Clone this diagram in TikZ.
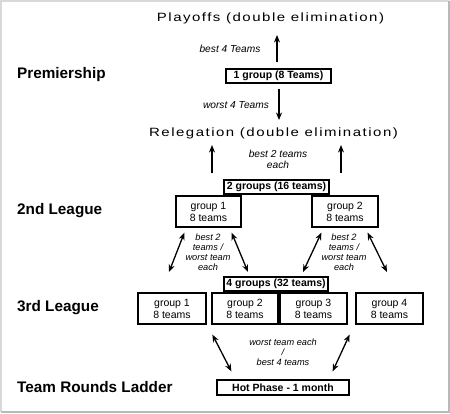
\documentclass[tikz,border=0pt]{standalone}
\usepackage{fontspec}
\setmainfont{Liberation Sans}
\newfontfamily\widefont[LetterSpace=10]{Liberation Sans}
\usetikzlibrary{arrows.meta,calc,positioning}

\begin{document}
\begin{tikzpicture}[x=1pt,y=-1pt,>={Stealth[length=7.5pt,width=6pt]}]
  \tikzstyle{mybox}=[draw, line width=1.3pt, inner sep=0pt, minimum height=14pt,
              font=\fontsize{10.5}{12}\selectfont\bfseries]
  \tikzstyle{mygrp}=[draw, line width=1.2pt, align=center, inner sep=0pt,
              minimum width=67pt, minimum height=31pt, font=\fontsize{10.5}{12}\selectfont]
  \tikzstyle{mylvl}=[anchor=west, inner sep=0pt, font=\fontsize{15.3}{18}\selectfont\bfseries]
  \tikzstyle{myhead}=[font=\fontsize{12}{14}\selectfont\widefont]
  \tikzstyle{mylab}=[align=center, font=\fontsize{10.2}{11}\selectfont\itshape]
  \tikzstyle{mysml}=[align=center, font=\fontsize{9.2}{10}\selectfont\itshape]
  \tikzstyle{myarr}=[->, line width=1.6pt]
  \tikzstyle{mydbl}=[<->, line width=1.3pt]
  \useasboundingbox (0,0) rectangle (450,413);
  % frame
  \draw[gray!30, line width=1.5pt] (1,1) rectangle (448.5,411.5);
  \draw[gray!55, line width=2pt] (448.5,1) -- (448.5,411.5) -- (1,411.5);
  % levels
  \node[mylvl] (prem) at (17,75) {Premiership};
  \node[mylvl] (lg2) at (17,211) {2nd League};
  \node[mylvl] (lg3) at (17,308) {3rd League};
  \node[mylvl] (ladder) at (17,387) {Team Rounds Ladder};
  % Premiership
  \node[myhead] (playoffs) at (270.5,18) {\scalebox{1.25}[1]{Playoffs (double elimination)}};
  \node[mybox, minimum width=105pt] (g8) at (278.5,76) {1 group (8 Teams)};
  \coordinate (up1) at (277,35);
  \draw[myarr, shorten <=6pt] (g8.north -| up1) -- (up1);
  \node[mylab] (lb1) at (230,49) {best 4 Teams};
  \node[myhead] (releg) at (273.5,133) {\scalebox{1.25}[1]{Relegation (double elimination)}};
  \coordinate (dn1) at (279,120);
  \draw[myarr, shorten <=5pt] (g8.south -| dn1) -- (dn1);
  \node[mylab] (lb2) at (236,105) {worst 4 Teams};
  % 2nd League
  \node[mybox, minimum width=105pt] (g16) at (276.5,187) {2 groups (16 teams)};
  \node[mygrp, minimum width=65pt] (b1) at (208.5,211.5) {group 1\\8 teams};
  \node[mygrp, minimum width=66pt] (b2) at (345,211.5) {group 2\\8 teams};
  \coordinate (r1) at (212,145);
  \coordinate (r2) at (341,145);
  \draw[myarr, shorten <=6pt] (g16.north -| r1) -- (r1);
  \draw[myarr, shorten <=6pt] (g16.north -| r2) -- (r2);
  \node[mylab] (lb3) at (278,159.5) {best 2 teams\\each};
  % 2nd <-> 3rd
  \coordinate (d1) at (169,272);
  \coordinate (d2) at (248,272);
  \coordinate (d3) at (303,272);
  \coordinate (d4) at (387,272);
  \draw[mydbl] ($(b1.south west)+(9,5)$) -- (d1);
  \draw[mydbl] ($(b1.south east)+(-10,5)$) -- (d2);
  \draw[mydbl] ($(b2.south west)+(10,5)$) -- (d3);
  \draw[mydbl] ($(b2.south east)+(-11,5)$) -- (d4);
  \node[mysml] (lb4) at (208,252) {best 2\\teams /\\worst team\\each};
  \node[mysml] (lb5) at (344,252) {best 2\\teams /\\worst team\\each};
  % 3rd League
  \node[mybox, minimum width=104pt] (g32) at (276,284) {4 groups (32 teams)};
  \node[mygrp, minimum width=68pt] (c1) at (172,308.5) {group 1\\8 teams};
  \node[mygrp, minimum width=66pt] (c2) at (245,308.5) {group 2\\8 teams};
  \node[mygrp] (c3) at (313.5,308.5) {group 3\\8 teams};
  \node[mygrp] (c4) at (389.5,308.5) {group 4\\8 teams};
  % Team Rounds Ladder
  \node[mybox, minimum width=132pt, minimum height=15pt] (hot) at (283,387.5) {Hot Phase - 1 month};
  \draw[mydbl] ($(c2.south west)+(1,10)$) -- ($(hot.north west)+(15,-8)$);
  \draw[mydbl] ($(c3.south east)+(2,10)$) -- ($(hot.north east)+(-17,-8)$);
  \node[mysml] (lb6) at (283,352.5) {worst team each\\/\\best 4 teams};
\end{tikzpicture}
\end{document}
